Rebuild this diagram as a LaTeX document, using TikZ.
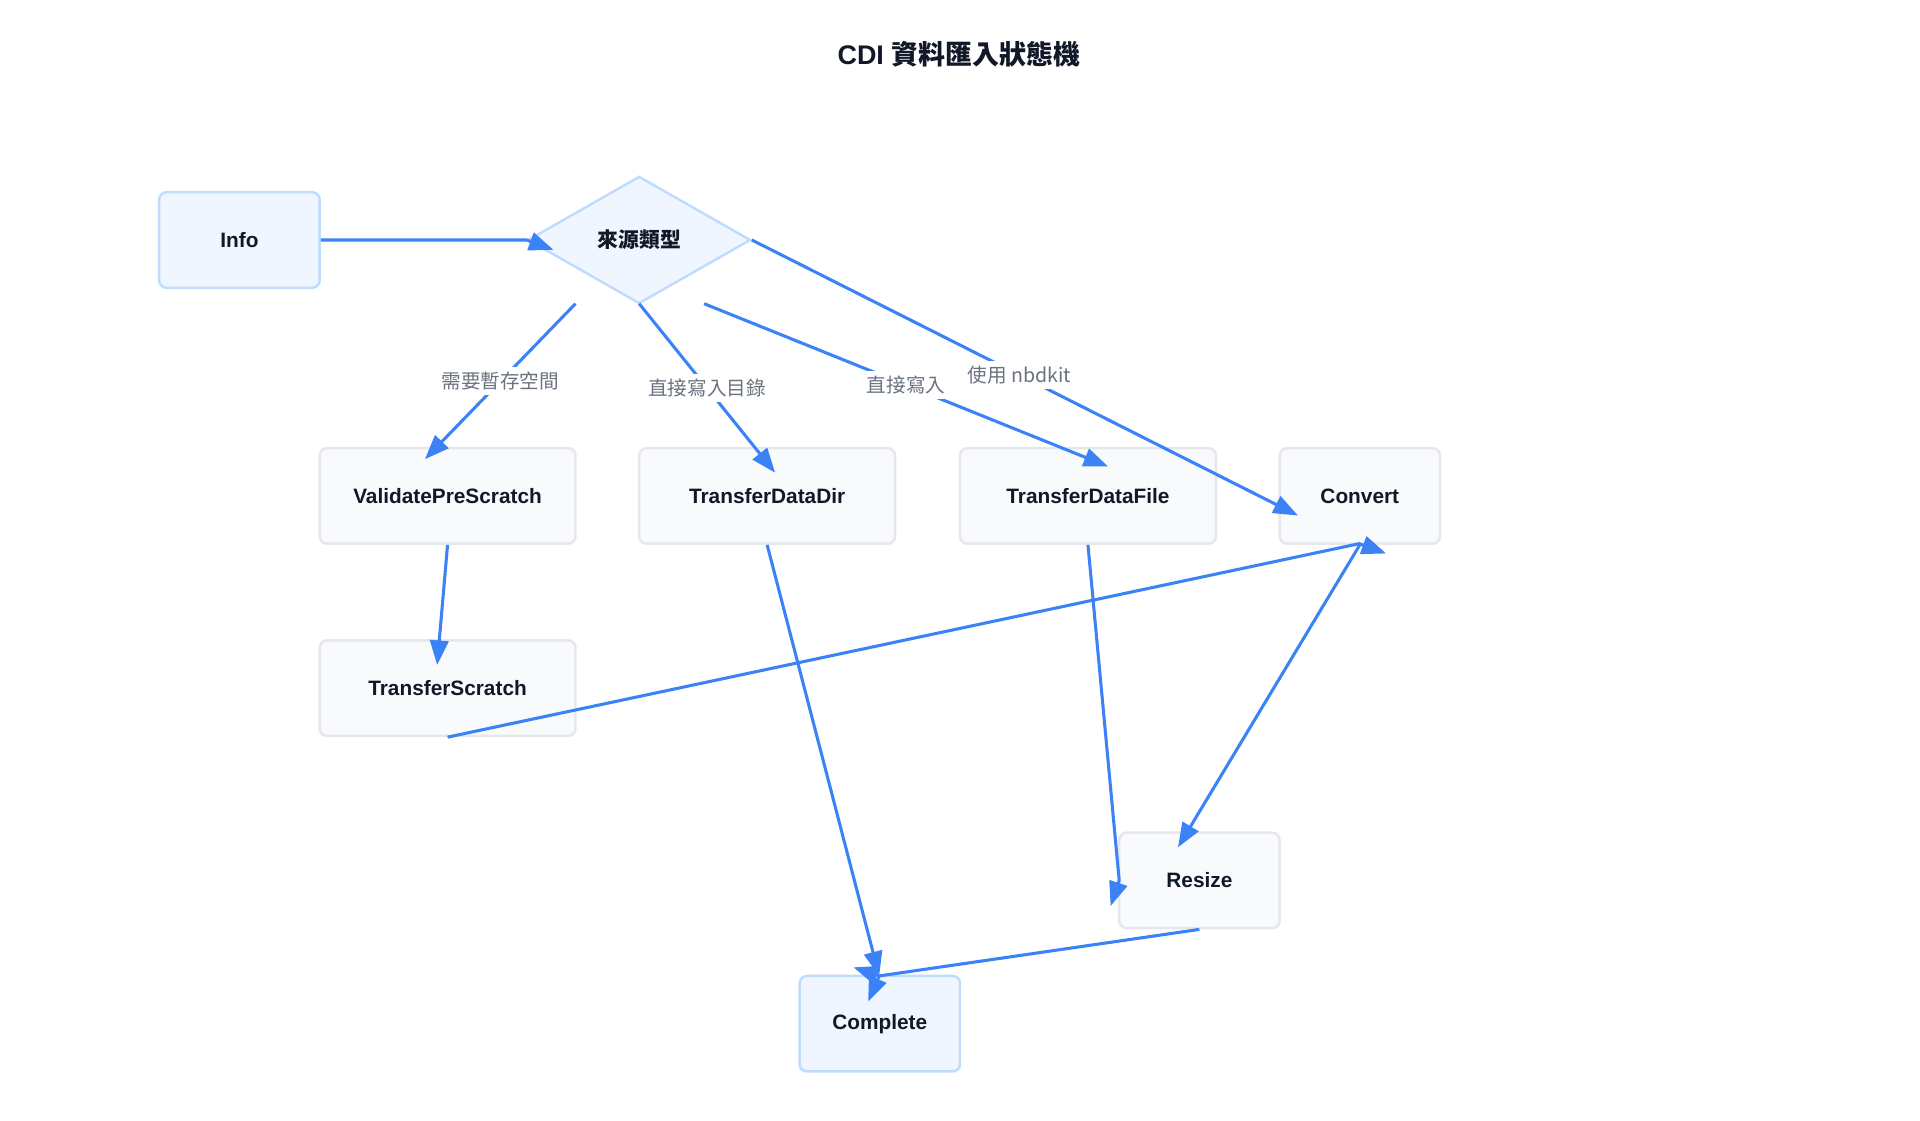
\documentclass[tikz,border=0pt]{standalone}
\usepackage{fontspec}
\setmainfont{Liberation Sans}
\newfontfamily\cjk{Noto Sans CJK TC}
\usetikzlibrary{arrows.meta,shapes.geometric}
\definecolor{bluefill}{HTML}{EFF6FF}
\definecolor{blueline}{HTML}{BFDBFE}
\definecolor{grayfill}{HTML}{F8FAFC}
\definecolor{grayline}{HTML}{E5E7EB}
\definecolor{edge}{HTML}{3B82F6}
\definecolor{lbl}{HTML}{6B7280}
\definecolor{txt}{HTML}{111827}
\tikzset{
  box/.style={draw=grayline,fill=grayfill,line width=2pt,rounded corners=6pt,minimum height=78pt,text=txt,font=\fontsize{17}{20}\selectfont\bfseries},
  bbox/.style={box,draw=blueline,fill=bluefill},
  dia/.style={diamond,draw=blueline,fill=bluefill,line width=2pt,minimum width=182pt,minimum height=104pt,inner sep=0pt,aspect=1.75,text=txt,font=\fontsize{17}{20}\selectfont\cjk\bfseries},
  conn/.style={draw=edge,line width=2.5pt,-{Triangle[length=20pt,width=15pt]}},
  elabel/.style={fill=white,text=lbl,inner sep=4pt,font=\fontsize{16}{19}\selectfont\cjk}
}
\begin{document}
\begin{tikzpicture}[x=1pt,y=-1pt]
\useasboundingbox (0,0) rectangle (1568,915);
\node[text=txt,font=\fontsize{22}{26}\selectfont\bfseries] (title) at (783,44) {CDI {\cjk 資料匯入狀態機}};
\node[bbox,minimum width=131pt] (info) at (195.5,196) {Info};
\node[dia] (src) at (522,196) {來源類型};
\node[box,minimum width=209pt] (vps) at (365.5,405) {ValidatePreScratch};
\node[box,minimum width=209pt] (tdd) at (626.5,405) {TransferDataDir};
\node[box,minimum width=209pt] (tdf) at (888.5,405) {TransferDataFile};
\node[box,minimum width=131pt] (conv) at (1110.5,405) {Convert};
\node[box,minimum width=209pt] (ts) at (365.5,562) {TransferScratch};
\node[box,minimum width=131pt] (rs) at (979.5,719) {Resize};
\node[bbox,minimum width=131pt] (cp) at (718.5,836) {Complete};
\coordinate (s1) at (470,248);
\coordinate (s2) at (522,248);
\coordinate (s3) at (575,248);
\coordinate (t1) at (347,375);
\coordinate (t2) at (633,386);
\coordinate (t3) at (905,381);
\coordinate (t4) at (1060,421);
\draw[conn] (info.east) -- (430,196) -- (452,204);
\draw[conn] (s1) -- node[elabel]{需要暫存空間} (t1);
\draw[conn] (s2) -- node[elabel]{直接寫入目錄} (t2);
\draw[conn] (s3) -- node[elabel]{直接寫入} (t3);
\draw[conn] (src.east) -- node[elabel,pos=0.49]{使用 nbdkit} (t4);
\draw[conn] (vps.south) -- (357,543);
\draw[conn] (ts.south) -- (1110,444) -- (1132,452);
\draw[conn] (conv.south) -- (962,692);
\draw[conn] (tdd.south) -- (718,797);
\draw[conn] (tdf.south) -- (914,719) -- (907,740);
\draw[conn] (rs.south) -- (718,797) -- (697,790);
\draw[conn] (718,797) -- (709,818);
\end{tikzpicture}
\end{document}
